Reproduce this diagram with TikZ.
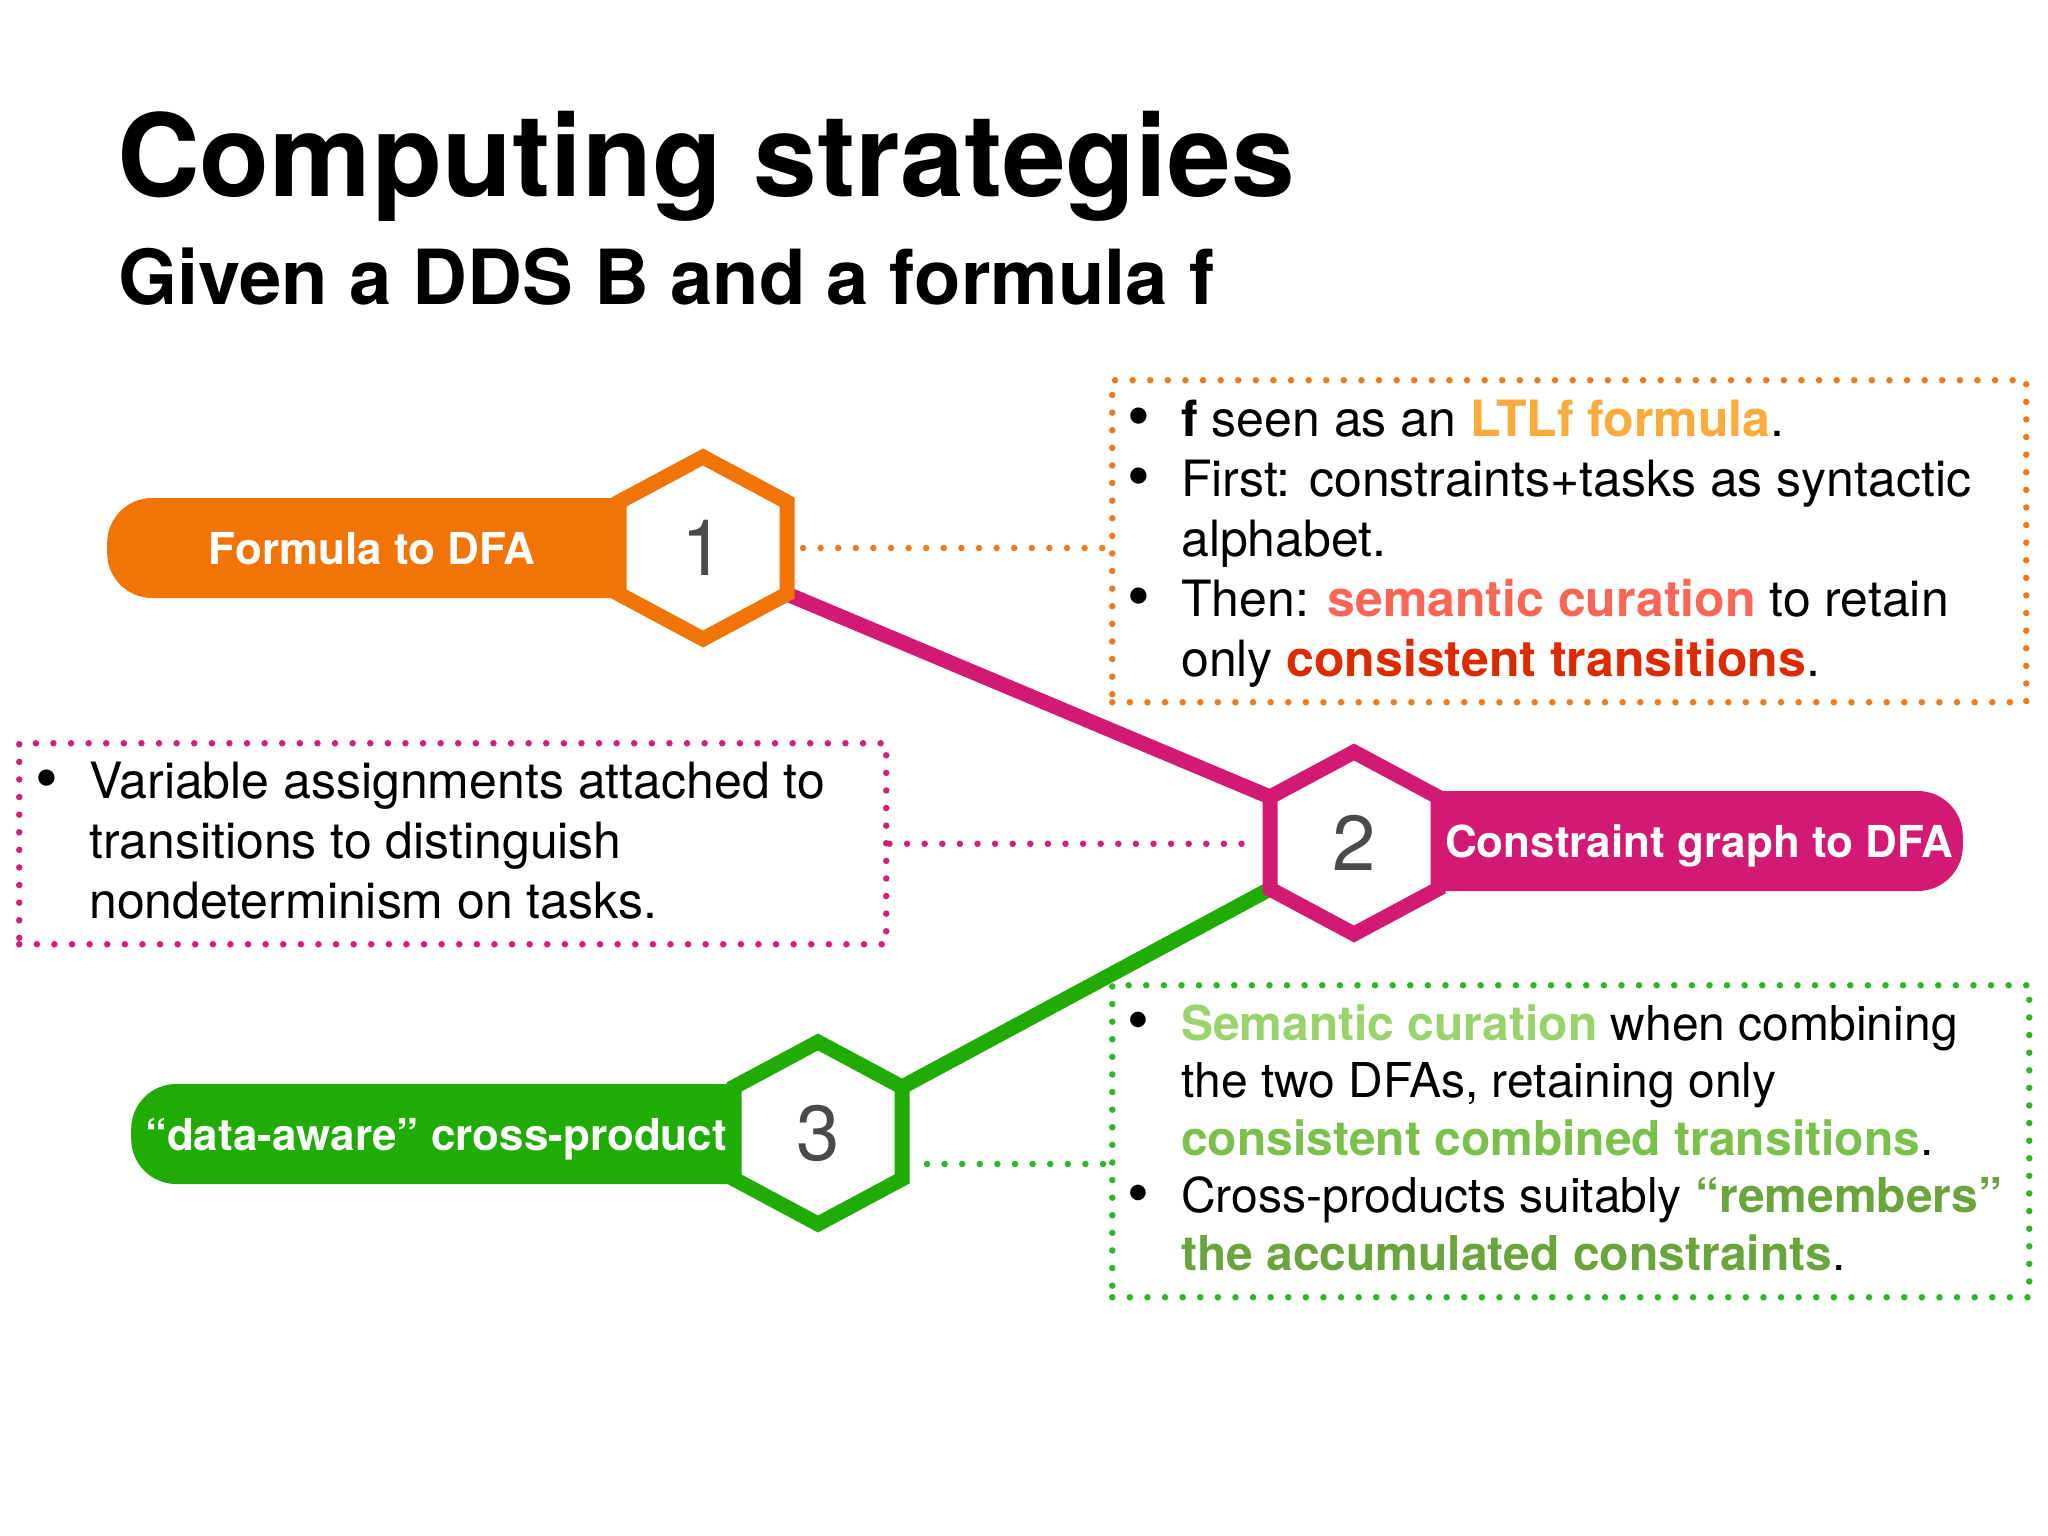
\documentclass[tikz,border=0pt]{standalone}
\usepackage{fontspec}
\usepackage{graphicx}
\setmainfont{TeX Gyre Heros}
\usetikzlibrary{calc}
\definecolor{orangeC}{HTML}{F07406}
\definecolor{pinkC}{HTML}{D21A74}
\definecolor{greenC}{HTML}{20AC04}
\definecolor{numC}{HTML}{4A4A4D}
\definecolor{ltlfC}{HTML}{FAAB3C}
\definecolor{semC}{HTML}{FB6556}
\definecolor{consC}{HTML}{DE2A02}
\definecolor{gA}{HTML}{9AD26C}
\definecolor{gB}{HTML}{7CC04C}
\definecolor{gC}{HTML}{6BA33D}
\definecolor{dotO}{HTML}{EE7A1E}
\definecolor{dotP}{HTML}{D31F79}
\definecolor{dotG}{HTML}{2DB52B}
\newcommand{\bul}{\raisebox{-0.04em}{\scalebox{1.3}{•}}}
\pgfdeclarelayer{bg}
\pgfsetlayers{bg,main}
\tikzset{
  hexa/.pic={
    \draw[line width=15pt, draw=#1, fill=white, line join=miter]
      (0,-91) -- (84,-46) -- (84,46) -- (0,91) -- (-84,46) -- (-84,-46) -- cycle;
    \coordinate (-ur) at (84,-46);
    \coordinate (-lr) at (84,46);
    \coordinate (-ul) at (-84,-46);
    \coordinate (-ll) at (-84,46);
    \coordinate (-e) at (100,0);
    \coordinate (-w) at (-102,0);
  },
  pill/.style={rounded corners=45pt, minimum height=100pt, inner sep=0pt, draw=none},
  pilltxt/.style={text=white, font=\fontsize{44}{48}\selectfont\bfseries, inner sep=0pt, anchor=base},
  numtxt/.style={text=numC, font=\fontsize{78}{80}\selectfont, inner sep=0pt},
  link/.style={line width=15pt},
  dotline/.style={line width=6.5pt, line cap=round, dash pattern=on 0pt off 17.6pt},
  dotbox/.style={dotline, inner sep=0pt, anchor=north west},
  body/.style={inner sep=0pt, anchor=base west, text=black}
}
\begin{document}
\begin{tikzpicture}[x=1pt,y=-1pt]
\useasboundingbox (0,0) rectangle (2048,1536);
\begin{pgfonlayer}{bg}
\fill[white] (0,0) rectangle (2048,1536);
\end{pgfonlayer}

% title
\node[anchor=base west, inner sep=0pt, font=\fontsize{114.5}{120}\selectfont\bfseries] (title) at (117,196) {Computing strategies};
\node[anchor=base west, inner sep=0pt, font=\fontsize{76}{80}\selectfont\bfseries] (subtitle) at (118,304) {Given a DDS B and a formula f};

% pills
\node[pill, fill=orangeC, minimum width=596pt, anchor=west] (p1) at (107,548) {};
\node[pill, fill=pinkC, minimum width=609pt, anchor=east] (p2) at (1963,841) {};
\node[pill, fill=greenC, minimum width=687pt, anchor=west] (p3) at (131,1134) {};

% hexagons
\pic (h1) at (703,548) {hexa=orangeC};
\pic (h2) at (1354,843) {hexa=pinkC};
\pic (h3) at (818,1133) {hexa=greenC};

\node[numtxt] (n1) at (703,548) {1};
\node[numtxt] (n2) at (1354,843) {2};
\node[numtxt] (n3) at (818,1133) {3};

\node[pilltxt] (t1) at (372,564) {Formula to DFA};
\node[pilltxt] (t2) at (1699,857) {Constraint graph to DFA};
\node[pilltxt] (t3) at (436,1150) {“data-aware” cross-product};

% solid connectors (behind hexagons)
\begin{pgfonlayer}{bg}
\draw[link, pinkC] (h1-lr) -- (h2-ul);
\draw[link, greenC] (h2-ll) -- (h3-ur);
\end{pgfonlayer}

% dotted boxes
\node[dotbox, draw=dotO, minimum width=914pt, minimum height=322pt] (box1) at (1109,377) {};
\node[dotbox, draw=dotP, minimum width=867pt, minimum height=201pt] (box2) at (16,740) {};
\node[dotbox, draw=dotG, minimum width=917pt, minimum height=312pt] (box3) at (1109,982) {};

% dotted connectors
\draw[dotline, dotO] (h1-e) -- (h1-e -| box1.west);
\draw[dotline, dotP] (box2.east) -- (box2.east -| h2-w);
\coordinate (g0) at ($(h3-e)+(9,31)$);
\draw[dotline, dotG] (g0) -- (g0 -| box3.west);

% box texts
\node[body] (txt1) at (1127,436) {\fontsize{50}{60}\selectfont
\begin{tabular}[t]{@{}p{54pt}@{}l@{}}
\bul & \textbf{f} seen as an \textcolor{ltlfC}{\textbf{LTLf formula}}.\\
\bul & First: constraints+tasks as syntactic\\
  & alphabet.\\
\bul & Then: \textcolor{semC}{\textbf{semantic curation}} to retain\\
  & only \textcolor{consC}{\textbf{consistent transitions}}.
\end{tabular}};

\node[body] (txt2) at (35,798) {\fontsize{50}{60}\selectfont
\begin{tabular}[t]{@{}p{54pt}@{}l@{}}
\bul & Variable assignments attached to\\
  & transitions to distinguish\\
  & nondeterminism on tasks.
\end{tabular}};

\node[body] (txt3) at (1127,1040) {\fontsize{48}{57.5}\selectfont
\begin{tabular}[t]{@{}p{54pt}@{}l@{}}
\bul & \textcolor{gA}{\textbf{Semantic curation}} when combining\\
  & the two DFAs, retaining only\\
  & \textcolor{gB}{\textbf{consistent combined transitions}}.\\
\bul & Cross-products suitably \textcolor{gC}{\textbf{“remembers”}}\\
  & \textcolor{gC}{\textbf{the accumulated constraints}}.
\end{tabular}};
\end{tikzpicture}
\end{document}
